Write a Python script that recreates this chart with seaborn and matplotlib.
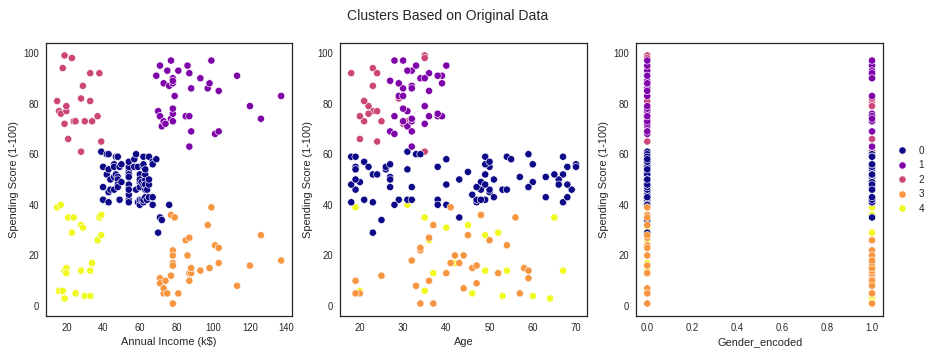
import numpy as np
import pandas as pd
import matplotlib.pyplot as plt
import seaborn as sns

# Mall customers: gender (Female=0, Male=1), age, income, spending score, cluster
gender = [1, 1, 0, 0, 0, 0, 0, 0, 1, 0, 1, 0, 0, 0, 1, 1, 0, 1, 1, 0,
          1, 1, 0, 1, 0, 1, 0, 1, 0, 0, 1, 0, 1, 1, 0, 0, 0, 0, 0, 0,
          0, 1, 1, 0, 0, 0, 0, 0, 0, 0, 0, 1, 0, 1, 0, 1, 0, 1, 0, 1,
          1, 1, 0, 0, 1, 1, 0, 0, 1, 0, 1, 0, 0, 0, 1, 1, 0, 1, 0, 0,
          1, 1, 1, 0, 0, 1, 0, 0, 0, 0, 0, 1, 1, 0, 0, 1, 0, 0, 1, 1,
          0, 0, 1, 1, 1, 0, 0, 1, 1, 1, 1, 0, 0, 1, 0, 0, 0, 0, 0, 0,
          1, 0, 0, 1, 0, 0, 1, 1, 1, 1, 1, 1, 0, 0, 1, 0, 0, 1, 1, 0,
          0, 1, 0, 0, 1, 1, 0, 0, 1, 1, 1, 0, 0, 1, 0, 0, 1, 0, 0, 0,
          0, 0, 1, 0, 1, 0, 1, 0, 0, 1, 1, 1, 1, 1, 0, 0, 1, 1, 1, 1,
          0, 0, 1, 0, 0, 0, 0, 0, 1, 0, 0, 0, 1, 0, 0, 0, 0, 1, 1, 1]

age = [19, 21, 20, 23, 31, 22, 35, 23, 64, 30, 67, 35, 58, 24, 37, 22, 35, 20, 52, 35,
       35, 25, 46, 31, 54, 29, 45, 35, 40, 23, 60, 21, 53, 18, 49, 21, 42, 30, 36, 20,
       65, 24, 48, 31, 49, 24, 50, 27, 29, 31, 49, 33, 31, 59, 50, 47, 51, 69, 27, 53,
       70, 19, 67, 54, 63, 18, 43, 68, 19, 32, 70, 47, 60, 60, 59, 26, 45, 40, 23, 49,
       57, 38, 67, 46, 21, 48, 55, 22, 34, 50, 68, 18, 48, 40, 32, 24, 47, 27, 48, 20,
       23, 49, 67, 26, 49, 21, 66, 54, 68, 66, 65, 19, 38, 19, 18, 19, 63, 49, 51, 50,
       27, 38, 40, 39, 23, 31, 43, 40, 59, 38, 47, 39, 25, 31, 20, 29, 44, 32, 19, 35,
       57, 32, 28, 32, 25, 28, 48, 32, 34, 34, 43, 39, 44, 38, 47, 27, 37, 30, 34, 30,
       56, 29, 19, 31, 50, 36, 42, 33, 36, 32, 40, 28, 36, 36, 52, 30, 58, 27, 59, 35,
       37, 32, 46, 29, 41, 30, 54, 28, 41, 36, 34, 32, 33, 38, 47, 35, 45, 32, 32, 30]

income = [15, 15, 16, 16, 17, 17, 18, 18, 19, 19, 19, 19, 20, 20, 20, 20, 21, 21, 23, 23,
          24, 24, 25, 25, 28, 28, 28, 28, 29, 29, 30, 30, 33, 33, 33, 33, 34, 34, 37, 37,
          38, 38, 39, 39, 39, 39, 40, 40, 40, 40, 42, 42, 43, 43, 43, 43, 44, 44, 46, 46,
          46, 46, 47, 47, 48, 48, 48, 48, 48, 48, 49, 49, 50, 50, 54, 54, 54, 54, 54, 54,
          54, 54, 54, 54, 54, 54, 57, 57, 58, 58, 59, 59, 60, 60, 60, 60, 60, 60, 61, 61,
          62, 62, 62, 62, 62, 62, 63, 63, 63, 63, 63, 63, 64, 64, 65, 65, 65, 65, 67, 67,
          67, 67, 69, 69, 70, 70, 71, 71, 71, 71, 71, 71, 72, 72, 73, 73, 73, 73, 74, 74,
          75, 75, 76, 76, 77, 77, 77, 77, 78, 78, 78, 78, 78, 78, 78, 78, 78, 78, 78, 78,
          79, 79, 81, 81, 85, 85, 86, 86, 87, 87, 87, 87, 87, 87, 88, 88, 88, 88, 93, 93,
          97, 97, 98, 98, 99, 99, 101, 101, 103, 103, 103, 103, 113, 113, 120, 120, 126, 126, 137, 137]

score = [39, 81, 6, 77, 40, 76, 6, 94, 3, 72, 14, 99, 15, 77, 13, 79, 35, 66, 29, 98,
         35, 73, 5, 73, 14, 82, 32, 61, 31, 87, 4, 73, 4, 92, 14, 81, 17, 73, 26, 75,
         35, 92, 36, 61, 28, 65, 55, 47, 42, 42, 52, 60, 54, 60, 45, 41, 50, 46, 51, 46,
         56, 55, 52, 59, 51, 59, 50, 48, 59, 47, 55, 42, 49, 56, 47, 54, 53, 48, 52, 42,
         51, 55, 41, 44, 57, 46, 58, 55, 60, 46, 55, 41, 49, 40, 42, 52, 47, 50, 42, 49,
         41, 48, 59, 55, 56, 42, 50, 46, 43, 48, 52, 54, 42, 46, 48, 50, 43, 59, 43, 57,
         56, 40, 58, 91, 29, 77, 35, 95, 11, 75, 9, 75, 34, 71, 5, 88, 7, 73, 10, 72,
         5, 93, 40, 87, 12, 97, 36, 74, 22, 90, 17, 88, 20, 76, 16, 89, 1, 78, 1, 73,
         35, 83, 5, 93, 26, 75, 20, 95, 27, 63, 13, 75, 10, 92, 13, 86, 15, 69, 14, 90,
         32, 86, 15, 88, 39, 97, 24, 68, 17, 85, 23, 69, 8, 91, 16, 79, 28, 74, 18, 83]

cluster = [4, 2, 4, 2, 4, 2, 4, 2, 4, 2, 4, 2, 4, 2, 4, 2, 4, 2, 4, 2,
           4, 2, 4, 2, 4, 2, 4, 2, 4, 2, 4, 2, 4, 2, 4, 2, 4, 2, 4, 2,
           4, 2, 4, 0, 4, 2, 0, 0, 0, 0, 0, 0, 0, 0, 0, 0, 0, 0, 0, 0,
           0, 0, 0, 0, 0, 0, 0, 0, 0, 0, 0, 0, 0, 0, 0, 0, 0, 0, 0, 0,
           0, 0, 0, 0, 0, 0, 0, 0, 0, 0, 0, 0, 0, 0, 0, 0, 0, 0, 0, 0,
           0, 0, 0, 0, 0, 0, 0, 0, 0, 0, 0, 0, 0, 0, 0, 0, 0, 0, 0, 0,
           0, 0, 0, 1, 0, 1, 0, 1, 3, 1, 3, 1, 0, 1, 3, 1, 3, 1, 3, 1,
           3, 1, 0, 1, 3, 1, 3, 1, 3, 1, 3, 1, 3, 1, 3, 1, 3, 1, 3, 1,
           3, 1, 3, 1, 3, 1, 3, 1, 3, 1, 3, 1, 3, 1, 3, 1, 3, 1, 3, 1,
           3, 1, 3, 1, 3, 1, 3, 1, 3, 1, 3, 1, 3, 1, 3, 1, 3, 1, 3, 1]

df = pd.DataFrame({
    'Gender_encoded': gender,
    'Age': age,
    'Annual Income (k$)': income,
    'Spending Score (1-100)': score,
    'Cluster': cluster,
})

sns.set_style('white')
plt.rcParams['font.family'] = ['Liberation Sans', 'DejaVu Sans']
plt.rcParams['axes.edgecolor'] = '0.15'
plt.rcParams['axes.linewidth'] = 1.25
plt.rcParams['xtick.labelsize'] = 9.5
plt.rcParams['ytick.labelsize'] = 9.5
plt.rcParams['axes.labelsize'] = 11

fig = plt.figure(figsize=(933 / 72, 353 / 72), dpi=72)
boxes = [(0.0493, 0.105, 0.264, 0.773),
         (0.3644, 0.105, 0.265, 0.773),
         (0.6817, 0.105, 0.265, 0.773)]
xcols = ['Annual Income (k$)', 'Age', 'Gender_encoded']

for i, (box, xc) in enumerate(zip(boxes, xcols)):
    ax = fig.add_axes(box)
    sns.scatterplot(data=df, x=xc, y='Spending Score (1-100)', hue='Cluster',
                    palette='plasma', s=52, edgecolor='white', linewidth=0.6,
                    legend='full' if i == 2 else False, ax=ax)
    if i == 2:
        handles, labels = ax.get_legend_handles_labels()
        ax.legend(handles, labels, loc='center left', bbox_to_anchor=(1.0, 0.5),
                  frameon=False, fontsize=10, handletextpad=0.6, labelspacing=0.45)

fig.suptitle('Clusters Based on Original Data', fontsize=14, x=0.48, y=0.975)

fig.savefig('out.png', dpi=72)
